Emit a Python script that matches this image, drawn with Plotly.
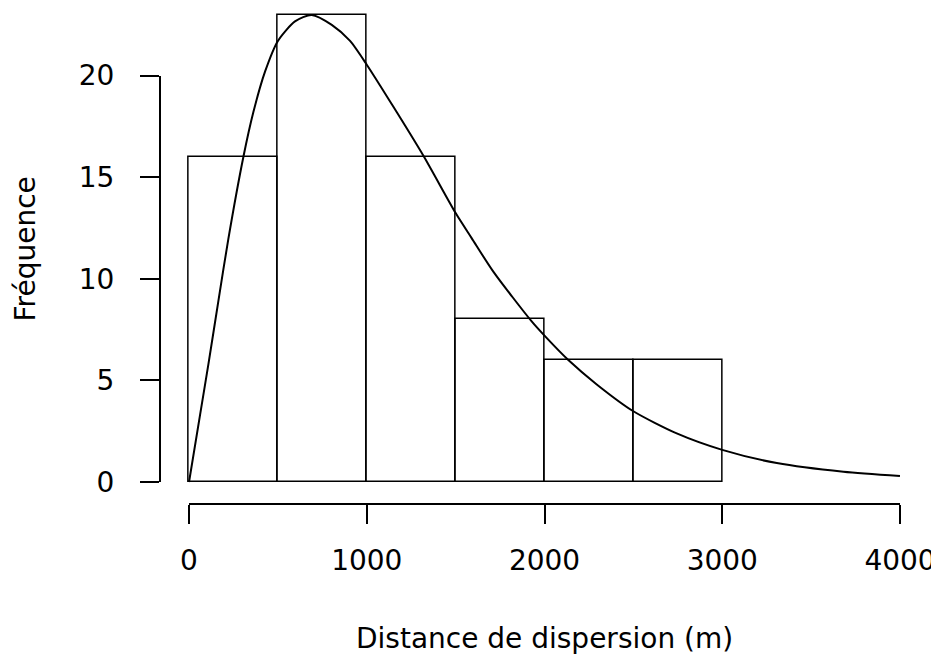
import plotly.graph_objects as go

# ---- data ----
bin_left = [0, 500, 1000, 1500, 2000, 2500]
bin_width = 500
counts = [16, 23, 16, 8, 6, 6]

curve_x = [0, 62, 109, 165, 221, 306, 362, 428, 500, 596, 690, 803, 906, 1000, 1149,
           1322, 1500, 1590, 1712, 1928, 2000, 2134, 2294, 2500, 2744, 3000, 3307, 3682, 4000]
curve_y = [0, 3.3, 5.8, 8.9, 11.95, 16.0, 18.2, 20.2, 21.7, 22.66, 22.98, 22.49, 21.7, 20.53, 18.47,
           16.0, 13.23, 12.0, 10.35, 7.9, 7.2, 6.0, 4.8, 3.48, 2.39, 1.58, 0.93, 0.5, 0.29]

x_ticks = [0, 1000, 2000, 3000, 4000]
y_ticks = [0, 5, 10, 15, 20]
x_title = "Distance de dispersion (m)"
y_title = "Fréquence"

# the page body has an 8px margin, so figure pixel positions are the target's minus 8;
# the figure is sized so the page does not overflow the 939x662 window
W, H = 931, 646
FONT = "DejaVu Sans"
FS = 28


def px(v):
    return v / W


def py(v):
    return 1 - v / H


bin_centers = [b + bin_width / 2 for b in bin_left]

fig = go.Figure()
fig.add_trace(go.Bar(
    x=bin_centers, y=counts, width=[bin_width] * len(counts),
    marker=dict(color="rgba(255,255,255,0)", line=dict(color="black", width=1.5)),
    xaxis="x", yaxis="y", hoverinfo="skip", showlegend=False,
))
fig.add_trace(go.Scatter(
    x=curve_x, y=curve_y, mode="lines",
    line=dict(color="black", width=2, shape="spline", smoothing=0.7),
    xaxis="x", yaxis="y", hoverinfo="skip", showlegend=False,
))
# empty traces so the detached R-style axes get drawn
fig.add_trace(go.Scatter(x=[], y=[], xaxis="x2", yaxis="y2", hoverinfo="skip", showlegend=False))
fig.add_trace(go.Scatter(x=[], y=[], xaxis="x3", yaxis="y3", hoverinfo="skip", showlegend=False))

hidden = dict(showline=False, showgrid=False, zeroline=False, showticklabels=False,
              ticks="", automargin=False)

axis_style = dict(showline=True, linecolor="black", linewidth=1.5, ticks="outside",
                  ticklen=19, tickwidth=1.5, tickcolor="black", showgrid=False,
                  zeroline=False, automargin=False,
                  tickfont=dict(family=FONT, size=FS, color="black"))

fig.update_layout(
    template="none",
    width=W, height=H,
    margin=dict(l=0, r=0, t=0, b=0, pad=0, autoexpand=False),
    paper_bgcolor="white", plot_bgcolor="rgba(0,0,0,0)",
    barmode="overlay", bargap=0, showlegend=False,
    xaxis=dict(domain=[px(152.6), px(920.4)], range=[-160, 4160], anchor="y", **hidden),
    yaxis=dict(domain=[py(495.3), 1.0], range=[-1.048, 23.32], anchor="x", **hidden),
    xaxis2=dict(domain=[px(181), px(892)], range=[0, 4000], anchor="y2",
                tickvals=x_ticks, ticktext=[str(t) for t in x_ticks],
                ticklabelstandoff=12, **axis_style),
    yaxis2=dict(domain=[py(495.3), py(490)], range=[0, 1], anchor="x2", **hidden),
    yaxis3=dict(domain=[py(474), py(67.5)], range=[0, 20], anchor="x3",
                tickvals=y_ticks, ticktext=[str(t) for t in y_ticks],
                ticklabelstandoff=20, **axis_style),
    xaxis3=dict(domain=[px(152.7), px(157)], range=[0, 1], anchor="y3", **hidden),
    annotations=[
        dict(text=x_title, xref="paper", yref="paper", x=px(536.5), y=py(630),
             xanchor="center", yanchor="middle", showarrow=False,
             font=dict(family=FONT, size=FS, color="black")),
        dict(text=y_title, xref="paper", yref="paper", x=0, y=py(241),
             xanchor="left", yanchor="middle", showarrow=False, textangle=-90,
             borderpad=0, font=dict(family=FONT, size=FS, color="black")),
    ],
)

fig.write_html("out.html")
